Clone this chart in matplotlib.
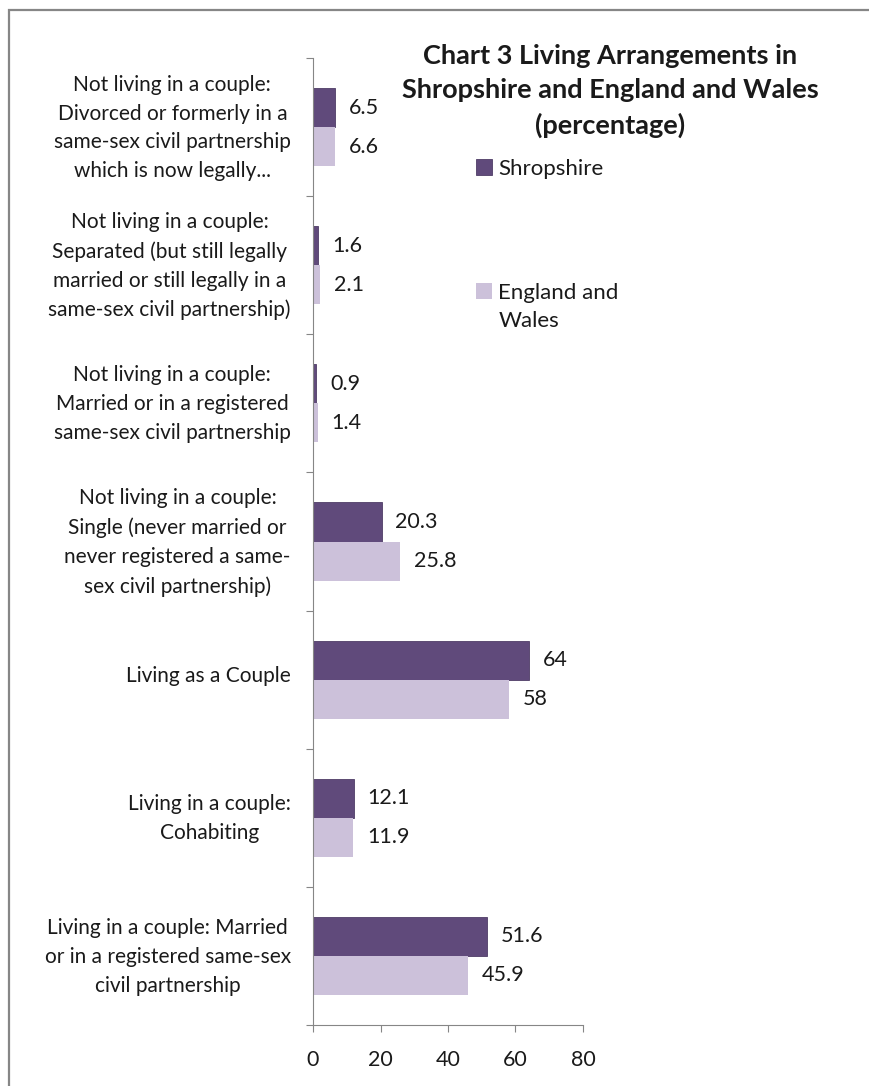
import matplotlib
matplotlib.use('Agg')
import matplotlib.pyplot as plt
from matplotlib.patches import Rectangle

plt.rcParams['font.family'] = ['Lato', 'DejaVu Sans']

# data, top to bottom
categories = [
    'Not living in a couple:\nDivorced or formerly in a\nsame-sex civil partnership\nwhich is now legally...',
    'Not living in a couple:\nSeparated (but still legally\nmarried or still legally in a\nsame-sex civil partnership)',
    'Not living in a couple:\nMarried or in a registered\nsame-sex civil partnership',
    'Not living in a couple:\nSingle (never married or\nnever registered a same-\nsex civil partnership)',
    'Living as a Couple',
    'Living in a couple:\nCohabiting',
    'Living in a couple: Married\nor in a registered same-sex\ncivil partnership',
]
shropshire = [6.5, 1.6, 0.9, 20.3, 64, 12.1, 51.6]
eng_wales = [6.6, 2.1, 1.4, 25.8, 58, 11.9, 45.9]
xticks = [0, 20, 40, 60, 80]

c_dark = '#604a7b'
c_light = '#ccc1da'
grey = '#868686'
txt = '#1a1a1a'

W, H = 870, 1086
fig = plt.figure(figsize=(W / 100, H / 100), dpi=100)

# outer chart border
fig.patches.append(Rectangle((9 / W, -0.05), 1.1, 1 - 10 / H + 0.05,
                             transform=fig.transFigure, fill=False,
                             edgecolor=grey, linewidth=1.6))

ax = fig.add_axes([313 / W, 1 - 1025 / H, 270 / W, (1025 - 58) / H])

y = list(range(len(categories)))
h = 0.283
b1 = ax.barh([v - h / 2 for v in y], shropshire, height=h, color=c_dark,
             edgecolor='#4f3d66', linewidth=0.6, label='Shropshire')
b2 = ax.barh([v + h / 2 for v in y], eng_wales, height=h, color=c_light,
             label='England and\nWales')

ax.bar_label(b1, labels=['%g' % v for v in shropshire], padding=10,
             fontsize=15.5, color=txt)
ax.bar_label(b2, labels=['%g' % v for v in eng_wales], padding=10,
             fontsize=15.5, color=txt)

ax.set_ylim(len(categories) - 0.5, -0.5)
ax.set_xlim(0, 80)
ax.set_xticks(xticks)
ax.set_xticklabels([str(t) for t in xticks], fontsize=15.5, color=txt)
ax.set_yticks([v - 0.5 for v in y] + [len(categories) - 0.5])
ax.set_yticklabels([])
# category names sit slightly above the band centre, as in the original
ax.set_yticks([v - 0.04 for v in y], minor=True)
ax.set_yticklabels(categories, minor=True, fontsize=15, color=txt,
                   multialignment='center', linespacing=1.55)
ax.tick_params(axis='y', which='minor', length=0, pad=16)
ax.tick_params(axis='y', which='major', length=5, color=grey)
ax.tick_params(axis='x', length=5, color=grey, pad=13)

for s in ['top', 'right']:
    ax.spines[s].set_visible(False)
ax.spines['left'].set_color(grey)
ax.spines['bottom'].set_color(grey)

fig.text(610 / W, 1 - 91 / H,
         'Chart 3 Living Arrangements in\nShropshire and England and Wales\n(percentage)',
         ha='center', va='center', fontsize=19.5, fontweight='bold',
         color=txt, linespacing=1.5)

leg = fig.legend(handles=[b1, b2], loc='upper left',
                 bbox_to_anchor=(456 / W, 1 - 139 / H), frameon=False,
                 fontsize=16, handlelength=0.7, handleheight=0.7,
                 handletextpad=0.3, labelspacing=4.7, labelcolor=txt)
for t in leg.get_texts():
    t.set_linespacing(1.5)
# put the swatch next to the first line of a two-line label
for col in leg._legend_handle_box.get_children():
    for row in col.get_children():
        row.align = 'top'

fig.savefig('out.png', dpi=100)
